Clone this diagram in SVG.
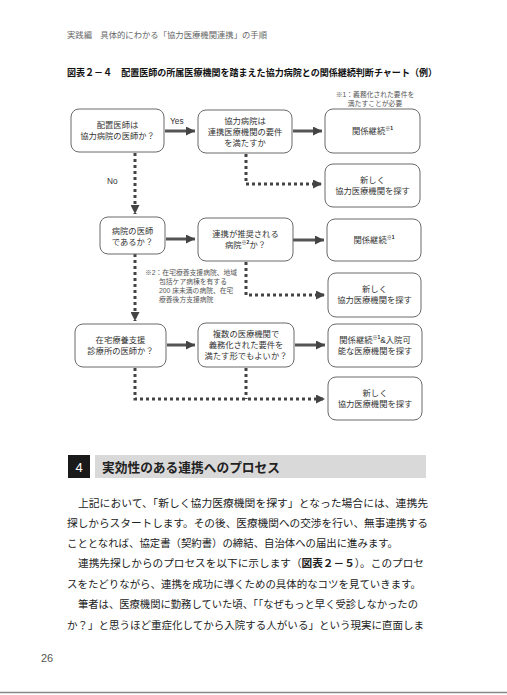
<svg xmlns="http://www.w3.org/2000/svg" width="507" height="695" viewBox="0 0 507 695">
<style>
.sans{font-family:"Liberation Sans","Noto Sans CJK JP",sans-serif}
.box{fill:#fff;stroke:#6a6a6a;stroke-width:1}
.nt{font-family:"Liberation Sans","Noto Sans CJK JP",sans-serif;font-size:8.3px;fill:#333;text-anchor:middle}
.sup{font-size:5px;font-weight:bold;fill:#222}
.solid{stroke:#555;stroke-width:3;fill:none}
.dot{stroke:#444;stroke-width:3;stroke-dasharray:3 3;fill:none}
.note{font-family:"Liberation Sans","Noto Sans CJK JP",sans-serif;font-size:6.8px;fill:#555}
.body{font-family:"Liberation Serif","Noto Sans CJK JP",serif;font-size:10.6px;fill:#222}
</style>
<defs>
<marker id="ah" viewBox="0 0 10 10" refX="10" refY="5" markerWidth="3" markerHeight="3" orient="auto" markerUnits="strokeWidth">
<path d="M0,0 L10,5 L0,10 z" fill="#444"/>
</marker>
</defs>
<rect width="507" height="695" fill="#fff"/>
<text class="sans" x="67" y="38" font-size="8.5" fill="#666" textLength="200" lengthAdjust="spacingAndGlyphs">実践編　具体的にわかる「協力医療機関連携」の手順</text>
<text class="sans" x="67" y="76" font-size="9.5" font-weight="bold" fill="#111" textLength="370" lengthAdjust="spacingAndGlyphs">図表２－４　配置医師の所属医療機関を踏まえた協力病院との関係継続判断チャート（例）</text>
<text class="note" x="375" y="97" text-anchor="middle">※1：義務化された要件を</text>
<text class="note" x="375" y="106" text-anchor="middle">満たすことが必要</text>
<g id="connectors">
<path class="solid" d="M165,131 H195" marker-end="url(#ah)"/>
<path class="solid" d="M293,131 H322" marker-end="url(#ah)"/>
<path class="dot" d="M246,154 V184 H322" marker-end="url(#ah)"/>
<path class="dot" d="M135,153 V214" marker-end="url(#ah)"/>
<path class="solid" d="M166,239 H195" marker-end="url(#ah)"/>
<path class="solid" d="M293,240 H324" marker-end="url(#ah)"/>
<path class="dot" d="M246,262 V295 H325" marker-end="url(#ah)"/>
<path class="dot" d="M135,254 V321" marker-end="url(#ah)"/>
<path class="solid" d="M167,345 H195" marker-end="url(#ah)"/>
<path class="solid" d="M295,345 H325" marker-end="url(#ah)"/>
<path class="dot" d="M135,368 V399 H325" marker-end="url(#ah)"/>
<path class="dot" d="M246,368 V399"/>
<text class="sans" x="170" y="124" font-size="8.3" fill="#333">Yes</text>
<text class="sans" x="107" y="184" font-size="8.3" fill="#333">No</text>
</g>
<g id="nA"><rect class="box" x="71" y="109" width="93" height="43" rx="8"/><text class="nt" x="117.5" y="128">配置医師は</text><text class="nt" x="117.5" y="139">協力病院の医師か？</text></g>
<g id="nB"><rect class="box" x="198" y="110" width="94" height="43" rx="8"/><text class="nt" x="245" y="124">協力病院は</text><text class="nt" x="245" y="135">連携医療機関の要件</text><text class="nt" x="245" y="146">を満たすか</text></g>
<g id="nC"><rect class="box" x="325" y="109" width="95" height="44" rx="8"/><text class="nt" x="372.5" y="134">関係継続<tspan class="sup" dy="-4">※1</tspan></text></g>
<g id="nD"><rect class="box" x="325" y="164" width="95" height="43" rx="8"/><text class="nt" x="372.5" y="183">新しく</text><text class="nt" x="372.5" y="194">協力医療機関を探す</text></g>
<g id="nE"><rect class="box" x="100" y="217" width="65" height="37" rx="8"/><text class="nt" x="132.5" y="234">病院の医師</text><text class="nt" x="132.5" y="245">であるか？</text></g>
<g id="nF"><rect class="box" x="198" y="218" width="95" height="43" rx="8"/><text class="nt" x="245.5" y="237">連携が推奨される</text><text class="nt" x="245.5" y="248">病院<tspan class="sup" dy="-4">※2</tspan><tspan dy="4">か？</tspan></text></g>
<g id="nG"><rect class="box" x="327" y="219" width="94" height="42" rx="8"/><text class="nt" x="374" y="243">関係継続<tspan class="sup" dy="-4">※1</tspan></text></g>
<g id="nH"><rect class="box" x="328" y="273" width="93" height="44" rx="8"/><text class="nt" x="374.5" y="292">新しく</text><text class="nt" x="374.5" y="303">協力医療機関を探す</text></g>
<text class="note" x="145" y="275">※2：在宅療養支援病院、地域</text>
<text class="note" x="159" y="284">包括ケア病棟を有する</text>
<text class="note" x="159" y="293">200 床未満の病院、在宅</text>
<text class="note" x="159" y="302">療養後方支援病院</text>
<g id="nI"><rect class="box" x="75" y="324" width="91" height="43" rx="8"/><text class="nt" x="120.5" y="343">在宅療養支援</text><text class="nt" x="120.5" y="354">診療所の医師か？</text></g>
<g id="nJ"><rect class="box" x="198" y="323" width="96" height="44" rx="8"/><text class="nt" x="246" y="337">複数の医療機関で</text><text class="nt" x="246" y="348">義務化された要件を</text><text class="nt" x="246" y="359">満たす形でもよいか？</text></g>
<g id="nK"><rect class="box" x="328" y="324" width="94" height="43" rx="8"/><text class="nt" x="375" y="343">関係継続<tspan class="sup" dy="-4">※1</tspan><tspan dy="4">&amp;入院可</tspan></text><text class="nt" x="375" y="354">能な医療機関を探す</text></g>
<g id="nL"><rect class="box" x="328" y="377" width="94" height="43" rx="8"/><text class="nt" x="375" y="396">新しく</text><text class="nt" x="375" y="407">協力医療機関を探す</text></g>
<rect x="68" y="455" width="22" height="23" fill="#1a1a1a"/>
<text class="sans" x="79" y="471.5" font-size="13" fill="#fff" text-anchor="middle">4</text>
<rect x="95" y="455" width="331" height="23" fill="#d9d9d9"/>
<text class="sans" x="102" y="472" font-size="13" font-weight="bold" fill="#222" textLength="178" lengthAdjust="spacingAndGlyphs">実効性のある連携へのプロセス</text>
<text class="body" x="78" y="507" textLength="350" lengthAdjust="spacingAndGlyphs">上記において、「新しく協力医療機関を探す」となった場合には、連携先</text>
<text class="body" x="67" y="527" textLength="361" lengthAdjust="spacingAndGlyphs">探しからスタートします。その後、医療機関への交渉を行い、無事連携する</text>
<text class="body" x="67" y="547" textLength="331" lengthAdjust="spacingAndGlyphs">こととなれば、協定書（契約書）の締結、自治体への届出に進みます。</text>
<text class="body" x="78" y="567" textLength="346" lengthAdjust="spacingAndGlyphs">連携先探しからのプロセスを以下に示します（<tspan font-family="Liberation Sans,Noto Sans CJK JP,sans-serif" font-weight="bold">図表２－５</tspan>）。このプロセ</text>
<text class="body" x="67" y="588" textLength="354" lengthAdjust="spacingAndGlyphs">スをたどりながら、連携を成功に導くための具体的なコツを見ていきます。</text>
<text class="body" x="78" y="608" textLength="340" lengthAdjust="spacingAndGlyphs">筆者は、医療機関に勤務していた頃、「「なぜもっと早く受診しなかったの</text>
<text class="body" x="67" y="629" textLength="357" lengthAdjust="spacingAndGlyphs">か？」と思うほど重症化してから入院する人がいる」という現実に直面しま</text>
<text class="sans" x="41" y="662" font-size="11" fill="#555">26</text>
<line x1="0" y1="692.5" x2="507" y2="692.5" stroke="#888" stroke-width="1.5"/>
</svg>
